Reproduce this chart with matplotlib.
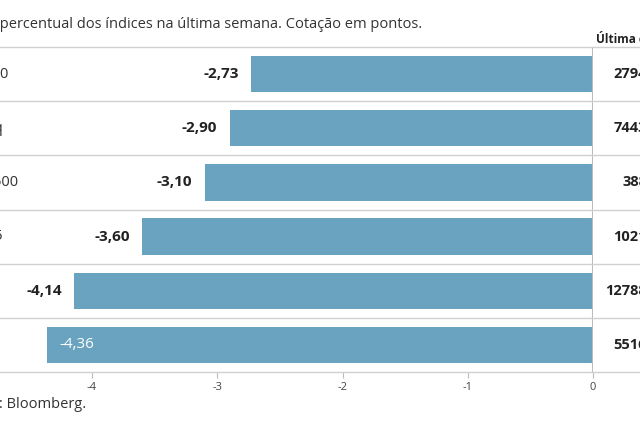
import matplotlib
matplotlib.use("Agg")
import matplotlib.pyplot as plt
from matplotlib.lines import Line2D

indices = ["S&P 500", "Nasdaq", "Stoxx 600", "IBEX 35", "DAX", "CAC 40"]
variacao = [-2.73, -2.90, -3.10, -3.60, -4.14, -4.36]
cotacao = ["2794,45", "7443,39", "388,61", "10213,4", "12788,51", "5516,84"]
ticks = [-4, -3, -2, -1, 0]

plt.rcParams["font.family"] = "Open Sans"
W, H = 640, 426
fig = plt.figure(figsize=(6.4, 4.26), dpi=100)
def fx(px): return px / W
def fy(py): return 1 - py / H

top, bot = 47, 372
ax = fig.add_axes([0, fy(bot), fx(593), (bot - top) / H])
ax.set_xlim(-593 / 125.25, 0)
n = len(indices)
ax.set_ylim(n - 0.5, -0.5)
ys = list(range(n))
ax.barh(ys, variacao, height=0.67, color="#69a3bf", zorder=2)
for s in ax.spines.values():
    s.set_visible(False)
ax.set_yticks([])
ax.set_xticks(ticks)
ax.set_xticklabels([str(t) for t in ticks], fontsize=8, color="#444")
ax.tick_params(axis="x", length=4, color="#bbb", pad=3)
ax.axvline(0, color="#bbb", lw=1.5, zorder=3)

for i in range(n + 1):
    yp = top + i * (bot - top) / n
    fig.add_artist(Line2D([0, 1], [fy(yp), fy(yp)], color="#d0d0d0", lw=1))

for i, (lab, v, c) in enumerate(zip(indices, variacao, cotacao)):
    if i == n - 1:
        ax.text(v + 0.1, i, f"{v:.2f}".replace(".", ","), ha="left", va="center",
                color="white", fontsize=11, zorder=4)
    else:
        ax.text(v - 0.1, i, f"{v:.2f}".replace(".", ","), ha="right", va="center",
                color="#222", fontsize=11, fontweight="bold", zorder=4)
    ax.text(fx(-48) / fx(593), i, lab, transform=ax.get_yaxis_transform(),
            ha="left", va="center", fontsize=10.5, color="#333")
    ax.text(fx(668) / fx(593), i, c, transform=ax.get_yaxis_transform(),
            ha="right", va="center", fontsize=10.5, fontweight="bold", color="#222")

fig.text(fx(-62), fy(25), "Variação percentual dos índices na última semana. Cotação em pontos.",
         ha="left", va="center", fontsize=10.5, color="#333")
fig.text(fx(596), fy(38), "Última cotação", ha="left", va="center",
         fontsize=8.5, fontweight="bold", color="#222")
fig.text(fx(-40), fy(404), "Fonte: Bloomberg.", ha="left", va="center",
         fontsize=10.5, color="#333")
fig.savefig("out.png", dpi=100)
